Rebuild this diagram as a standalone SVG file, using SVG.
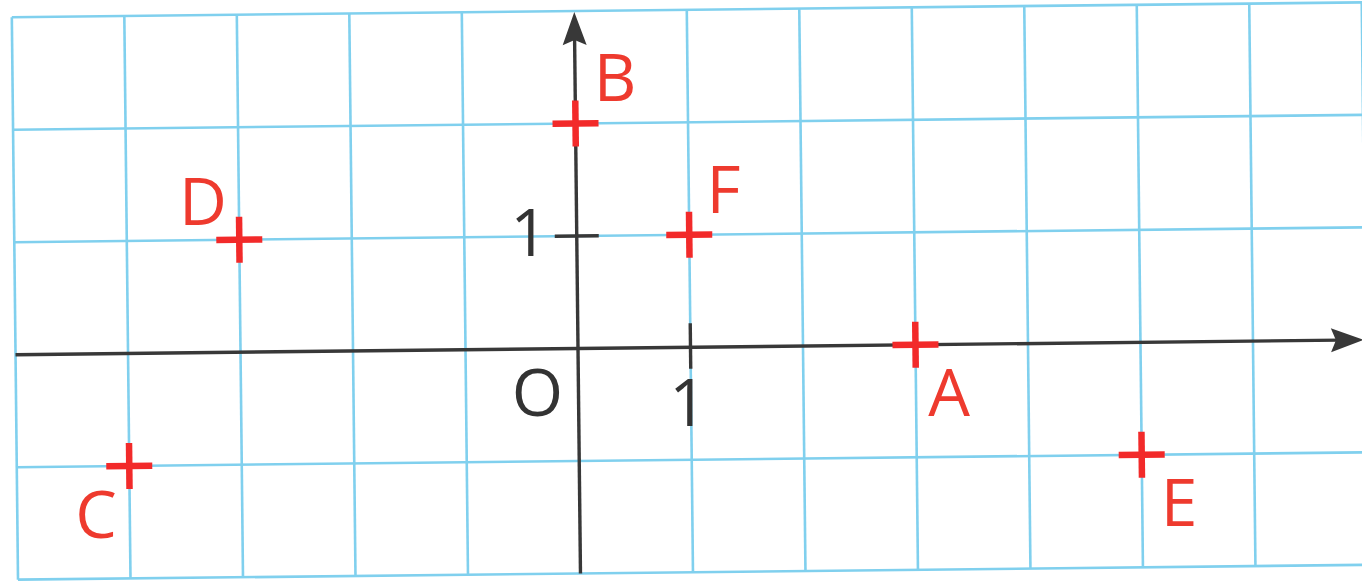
<svg xmlns="http://www.w3.org/2000/svg" width="1362" height="581" viewBox="0 0 1362 581">
  <style>
    .grid line { stroke: #80d0ee; stroke-width: 2.6; }
    .axis { stroke: #383838; stroke-width: 3.4; fill: none; }
    .head { fill: #383838; }
    .cross { stroke: #f22a2a; stroke-width: 6.5; stroke-linecap: butt; }
    .lbl { font-family: "Open Sans", "Liberation Sans", sans-serif; font-size: 66px; text-anchor: middle; }
    .red { fill: #ee3a2e; }
    .blk { fill: #333333; }
  </style>
  <rect x="0" y="0" width="1362" height="581" fill="#ffffff"/>
  <g transform="rotate(-0.63 578 348.5)">
    <g id="grid" class="grid">
      <line x1="15.5" y1="11" x2="1400" y2="11"/>
      <line x1="15.5" y1="123.5" x2="1400" y2="123.5"/>
      <line x1="15.5" y1="236" x2="1400" y2="236"/>
      <line x1="15.5" y1="461" x2="1400" y2="461"/>
      <line x1="15.5" y1="573.5" x2="1400" y2="573.5"/>
      <line x1="15.5" y1="11" x2="15.5" y2="573.5"/>
      <line x1="128" y1="11" x2="128" y2="573.5"/>
      <line x1="240.5" y1="11" x2="240.5" y2="573.5"/>
      <line x1="353" y1="11" x2="353" y2="573.5"/>
      <line x1="465.5" y1="11" x2="465.5" y2="573.5"/>
      <line x1="690.5" y1="11" x2="690.5" y2="573.5"/>
      <line x1="803" y1="11" x2="803" y2="573.5"/>
      <line x1="915.5" y1="11" x2="915.5" y2="573.5"/>
      <line x1="1028" y1="11" x2="1028" y2="573.5"/>
      <line x1="1140.5" y1="11" x2="1140.5" y2="573.5"/>
      <line x1="1253" y1="11" x2="1253" y2="573.5"/>
      <line x1="1365.5" y1="11" x2="1365.5" y2="573.5"/>
    </g>
    <g id="connectors">
      <line class="axis" x1="15.5" y1="348.5" x2="1340" y2="348.5"/>
      <path class="head" d="M1364,348.5 L1331,336.5 L1336,348.5 L1331,360.5 Z"/>
      <line class="axis" x1="578" y1="573.5" x2="578" y2="36"/>
      <path class="head" d="M578,12 L566,45 L578,40 L590,45 Z"/>
      <line class="axis" x1="556" y1="236" x2="600" y2="236"/>
      <line class="axis" x1="690.5" y1="324.5" x2="690.5" y2="370"/>
    </g>
    <g id="pA"><line class="cross" x1="892.5" y1="348.5" x2="938.5" y2="348.5"/><line class="cross" x1="915.5" y1="325.5" x2="915.5" y2="371.5"/></g>
    <g id="pB"><line class="cross" x1="555" y1="123.5" x2="601" y2="123.5"/><line class="cross" x1="578" y1="100.5" x2="578" y2="146.5"/></g>
    <g id="pC"><line class="cross" x1="105" y1="461" x2="151" y2="461"/><line class="cross" x1="128" y1="438" x2="128" y2="484"/></g>
    <g id="pD"><line class="cross" x1="217.5" y1="236" x2="263.5" y2="236"/><line class="cross" x1="240.5" y1="213" x2="240.5" y2="259"/></g>
    <g id="pE"><line class="cross" x1="1117.5" y1="461" x2="1163.5" y2="461"/><line class="cross" x1="1140.5" y1="438" x2="1140.5" y2="484"/></g>
    <g id="pF"><line class="cross" x1="667.5" y1="236" x2="713.5" y2="236"/><line class="cross" x1="690.5" y1="213" x2="690.5" y2="259"/></g>
  </g>
  <g id="labels">
    <text class="lbl red" x="949" y="416">A</text>
    <text class="lbl red" x="615" y="101">B</text>
    <text class="lbl red" x="96" y="538">C</text>
    <text class="lbl red" x="203" y="225">D</text>
    <text class="lbl red" x="1179" y="526">E</text>
    <text class="lbl red" x="723.5" y="213">F</text>
    <text class="lbl blk" x="537.5" y="416">O</text>
    <text class="lbl blk" x="529" y="256">1</text>
    <text class="lbl blk" x="688" y="426">1</text>
  </g>
</svg>
